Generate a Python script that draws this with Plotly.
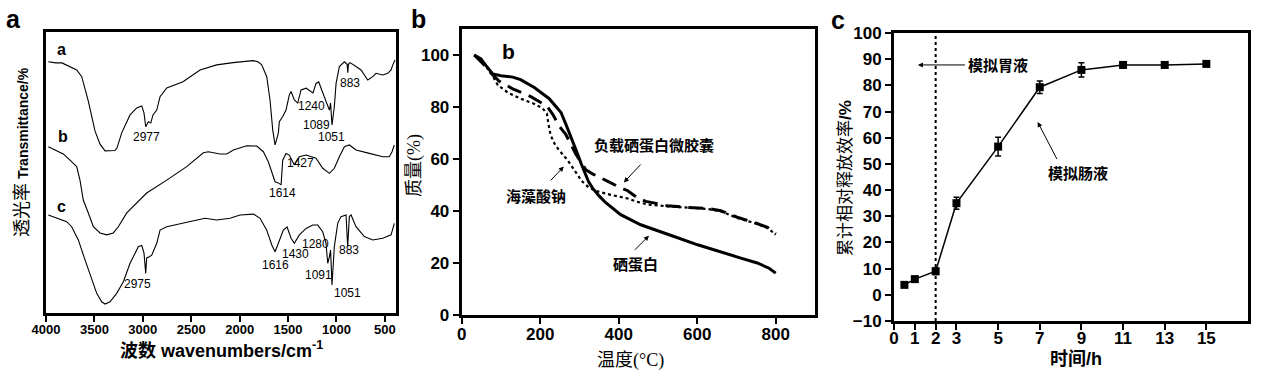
import plotly.graph_objects as go

# ---------------- Panel a : FTIR spectra (wavenumber cm-1, transmittance a.u.) ----------------
ftir_a = [(3976, 89.4), (3900, 89.0), (3835, 89.0), (3752, 87.7), (3683, 86.5), (3631, 84.1),
          (3563, 75.4), (3494, 64.8), (3442, 60.1), (3390, 57.7), (3339, 57.7), (3287, 57.8),
          (3267, 58.7), (3218, 64.1), (3132, 70.5), (3063, 73.0), (3011, 73.7), (2988, 71.2),
          (2970, 66.3), (2943, 68.1), (2918, 67.6), (2895, 70.5), (2856, 72.2), (2822, 77.0),
          (2753, 80.1), (2585, 82.3), (2409, 86.5), (2237, 88.3), (2068, 89.1), (1862, 89.8),
          (1810, 89.4), (1772, 88.3), (1720, 84.1), (1686, 75.7), (1658, 65.1), (1645, 61.4),
          (1634, 59.8), (1624, 61.0), (1600, 64.1), (1590, 68.1), (1555, 69.9), (1521, 72.2),
          (1487, 77.6), (1469, 78.8), (1435, 75.8), (1400, 74.7), (1366, 79.4), (1314, 80.0),
          (1263, 78.8), (1242, 78.3), (1211, 81.7), (1183, 82.3), (1159, 80.0), (1125, 77.0),
          (1090, 74.0), (1073, 72.2), (1061, 74.7), (1046, 66.9), (1022, 73.4), (1004, 81.7),
          (970, 87.7), (918, 89.4), (890, 88.5), (883, 85.5), (876, 88.5), (860, 89.1),
          (798, 87.7), (746, 86.5), (677, 82.9), (625, 84.1), (591, 85.3), (522, 84.7),
          (470, 85.3), (436, 86.5), (418, 88.3), (395, 90.0)]

ftir_b = [(3976, 59.2), (3873, 57.4), (3821, 56.6), (3752, 54.4), (3683, 52.1), (3649, 47.3),
          (3615, 40.2), (3563, 35.6), (3511, 30.7), (3442, 28.5), (3373, 27.8), (3305, 28.5),
          (3253, 30.7), (3166, 35.6), (3063, 39.1), (2960, 42.7), (2753, 47.3), (2547, 52.1),
          (2375, 57.0), (2323, 57.4), (2203, 56.6), (2133, 56.6), (2065, 58.0), (1927, 59.5),
          (1823, 59.4), (1755, 57.4), (1704, 53.8), (1668, 49.7), (1634, 46.7), (1600, 46.3),
          (1572, 45.6), (1555, 54.4), (1521, 56.8), (1487, 56.2), (1435, 52.7), (1383, 55.6),
          (1314, 56.2), (1211, 55.1), (1142, 51.5), (1073, 49.7), (1022, 51.5), (970, 55.6),
          (918, 59.2), (867, 59.8), (798, 58.0), (660, 56.8), (522, 55.6), (454, 55.6),
          (426, 57.4), (402, 59.8)]

ftir_c = [(3976, 34.9), (3873, 33.7), (3786, 32.5), (3735, 30.7), (3666, 26.0), (3597, 18.9),
          (3528, 11.7), (3476, 7.0), (3425, 4.0), (3390, 3.2), (3339, 4.0), (3270, 7.0),
          (3201, 11.1), (3132, 17.7), (3081, 21.2), (3047, 23.6), (3011, 24.0), (2988, 21.4),
          (2970, 14.1), (2960, 19.6), (2933, 20.0), (2908, 20.6), (2856, 24.8), (2822, 29.5),
          (2753, 30.7), (2582, 31.9), (2409, 33.3), (2358, 33.7), (2237, 33.1), (2099, 33.7),
          (1996, 34.9), (1858, 35.2), (1789, 33.7), (1720, 29.5), (1668, 24.2), (1634, 21.8),
          (1600, 24.8), (1549, 29.5), (1510, 30.6), (1469, 26.6), (1435, 24.8), (1383, 27.8),
          (1314, 30.1), (1245, 31.3), (1193, 31.3), (1142, 28.9), (1108, 24.8), (1090, 17.7),
          (1073, 20.0), (1061, 22.4), (1046, 10.0), (1022, 23.6), (987, 31.9), (953, 34.3),
          (901, 34.9), (884, 23.6), (867, 34.3), (849, 34.9), (798, 30.7), (712, 27.2),
          (625, 26.0), (522, 26.6), (436, 27.8), (402, 31.9)]

ftir_ticks = [4000, 3500, 3000, 2500, 2000, 1500, 1000, 500]
curve_labels = [("a", 3838, 93.6), ("b", 3828, 62.7), ("c", 3838, 37.8)]
peak_labels = [("2977", 2960, 62.5), ("1240", 1255, 73.7), ("1089", 1204, 66.9),
               ("1051", 1049, 62.5), ("883", 860, 81.7), ("1427", 1376, 53.3),
               ("1614", 1555, 42.8), ("1616", 1634, 17.1), ("1430", 1428, 21.0),
               ("1280", 1221, 24.6), ("1091", 1187, 13.5), ("1051", 888, 7.2),
               ("883", 867, 22.4), ("2975", 3057, 10.3)]

# ---------------- Panel b : TGA (temperature degC, mass %) ----------------
tga_protein = [(32, 100), (49, 98.5), (62, 95.9), (79, 92.7), (100, 92.0), (130, 91.5), (150, 90.5),
               (185, 87.5), (223, 83.2), (253, 77.9), (265, 73.5), (280, 68.0), (295, 62.0),
               (305, 58.0), (312, 55.3), (323, 51.3), (333, 48.9), (350, 45.8), (367, 43.2),
               (405, 38.6), (456, 34.7), (490, 33.0), (541, 30.2), (601, 27.0), (660, 24.4),
               (711, 21.9), (753, 20.0), (783, 18.0), (800, 16.1)]
tga_capsule = [(32, 100), (62, 95.5), (75, 93.0), (95, 90.0), (130, 87.0), (176, 84.0), (217, 80.4),
               (232, 77.2), (248, 72.7), (265, 69.5), (291, 61.8), (316, 55.9), (333, 54.3),
               (354, 52.6), (371, 51.5), (397, 49.5), (423, 47.8), (448, 45.0), (469, 43.7),
               (500, 42.8), (524, 42.0), (575, 41.4), (626, 41.0), (660, 40.1), (702, 37.6),
               (745, 35.6), (779, 33.7), (800, 31.2)]
tga_alginate = [(32, 100), (50, 98.3), (62, 95.5), (75, 93.0), (92, 88.4), (120, 85.3), (150, 83.2),
                (185, 81.2), (206, 79.5), (217, 77.5), (221, 73.5), (226, 69.5), (234, 66.5),
                (246, 63.8), (270, 59.5), (289, 55.0), (306, 51.5), (322, 49.3), (340, 47.8),
                (380, 46.2), (423, 44.8), (448, 43.5), (473, 42.5), (524, 41.8), (575, 41.2),
                (626, 40.8), (660, 39.9), (702, 37.3), (745, 35.4), (779, 33.5), (800, 30.9)]

# ---------------- Panel c : release (time h, cumulative release %) ----------------
time_h = [0.5, 1, 2, 3, 5, 7, 9, 11, 13, 15]
release = [3.8, 6.0, 9.0, 35.0, 56.6, 79.3, 85.9, 87.8, 87.8, 88.2]
release_err = [0.8, 0.8, 1.2, 2.3, 3.6, 2.4, 2.7, 1.2, 1.0, 1.0]
time_ticks = [0, 1, 2, 3, 5, 7, 9, 11, 13, 15]

W, H = 1267, 372
SANS = "Arial, Liberation Sans, Noto Sans CJK SC"
SERIF = "Liberation Serif, Noto Sans CJK SC"
CJK = "Noto Sans CJK SC"


def px(x, y):
    return x / W, 1 - y / H


fig = go.Figure()

# panel a traces
for curve in (ftir_a, ftir_b, ftir_c):
    fig.add_trace(go.Scatter(x=[p[0] for p in curve], y=[p[1] for p in curve], mode="lines",
                             line=dict(color="black", width=1.1), xaxis="x", yaxis="y",
                             showlegend=False, hoverinfo="skip"))

# panel b traces
fig.add_trace(go.Scatter(x=[p[0] for p in tga_alginate], y=[p[1] for p in tga_alginate], mode="lines",
                         line=dict(color="black", width=2.2, dash="dot"), xaxis="x2", yaxis="y2",
                         showlegend=False))
fig.add_trace(go.Scatter(x=[p[0] for p in tga_capsule], y=[p[1] for p in tga_capsule], mode="lines",
                         line=dict(color="black", width=3, dash="15px,8px"), xaxis="x2", yaxis="y2",
                         showlegend=False))
fig.add_trace(go.Scatter(x=[p[0] for p in tga_protein], y=[p[1] for p in tga_protein], mode="lines",
                         line=dict(color="black", width=3), xaxis="x2", yaxis="y2",
                         showlegend=False))

# panel c
fig.add_trace(go.Scatter(x=[2, 2], y=[-10, 100], mode="lines",
                         line=dict(color="black", width=2, dash="dot"), xaxis="x3", yaxis="y3",
                         showlegend=False))
fig.add_trace(go.Scatter(x=time_h, y=release, mode="lines+markers",
                         line=dict(color="black", width=1.5),
                         marker=dict(symbol="square", size=8, color="black"),
                         error_y=dict(type="data", array=release_err, color="black", thickness=1.5, width=3),
                         xaxis="x3", yaxis="y3", showlegend=False))

axis_common = dict(showline=True, linewidth=3, linecolor="black", mirror=True, showgrid=False,
                   zeroline=False, ticks="outside", ticklen=6, tickwidth=2, tickcolor="black",
                   automargin=False)

fig.update_layout(
    width=W, height=H, margin=dict(l=0, r=0, t=0, b=0, autoexpand=False),
    paper_bgcolor="white", plot_bgcolor="white",
    xaxis=dict(domain=[46 / W, 396 / W], range=[4000, 385], tickvals=ftir_ticks, anchor="y",
               ticklabelstandoff=-4,
               tickfont=dict(family=SANS, size=13, color="black", weight="bold"), **axis_common),
    yaxis=dict(domain=[1 - 313 / H, 1 - 32 / H], range=[0, 100], showticklabels=False, anchor="x",
               **{**axis_common, "ticks": ""}),
    xaxis2=dict(domain=[461.7 / W, 815 / W], range=[0, 900], tickvals=[0, 200, 400, 600, 800], anchor="y2",
                ticklabelstandoff=-4,
                tickfont=dict(family=SANS, size=17, color="black", weight="bold"), **axis_common),
    yaxis2=dict(domain=[1 - 315 / H, 1 - 29 / H], range=[0, 110], tickvals=[0, 20, 40, 60, 80, 100],
                anchor="x2", tickfont=dict(family=SANS, size=17, color="black", weight="bold"), **axis_common),
    xaxis3=dict(domain=[894 / W, 1248 / W], range=[0, 17], tickvals=time_ticks, anchor="y3",
                ticklabelstandoff=-6,
                tickfont=dict(family=SANS, size=17, color="black", weight="bold"), **axis_common),
    yaxis3=dict(domain=[1 - 321 / H, 1 - 33 / H], range=[-10, 100], dtick=10, anchor="x3",
                tickfont=dict(family=SANS, size=17, color="black", weight="bold"), **axis_common),
)

ann = []
# panel letters
for t, (x, y) in (("a", (13, 19)), ("b", (418, 19)), ("c", (838, 20))):
    xx, yy = px(x, y)
    ann.append(dict(text=f"<b>{t}</b>", x=xx, y=yy, xref="paper", yref="paper", showarrow=False,
                    xanchor="center", yanchor="middle",
                    font=dict(family=SANS, size=25, color="black")))

# axis titles
titles = [
    ("<span style='font-size:18px'>透光率</span> <b>Transmittance/%</b>", (22, 152), -90, SANS, 14),
    ("<b>波数 wavenumbers/cm<sup>-1</sup></b>", (222, 349), 0, SANS, 18),
    ("质量(%)", (414, 165), -90, SERIF, 18),
    ("温度(°C)", (630, 360), 0, SERIF, 18),
    ("累计相对释放效率<b>/%</b>", (845, 178), -90, SANS, 17),
    ("<b>时间/h</b>", (1076, 359), 0, SANS, 18),
]
for text, (x, y), ang, fam, sz in titles:
    xx, yy = px(x, y)
    ann.append(dict(text=text, x=xx, y=yy, xref="paper", yref="paper", showarrow=False, textangle=ang,
                    xanchor="center", yanchor="middle",
                    font=dict(family=fam, size=sz, color="black")))

# panel a in-plot labels
for t, x, y in curve_labels:
    ann.append(dict(text=f"<b>{t}</b>", x=x, y=y, xref="x", yref="y", showarrow=False,
                    xanchor="center", yanchor="middle",
                    font=dict(family=SANS, size=16, color="black")))
for t, x, y in peak_labels:
    ann.append(dict(text=t, x=x, y=y, xref="x", yref="y", showarrow=False,
                    xanchor="center", yanchor="middle",
                    font=dict(family=SANS, size=12, color="black")))

# panel b labels and arrows
ann.append(dict(text="<b>b</b>", x=118, y=101.5, xref="x2", yref="y2", showarrow=False,
                xanchor="center", yanchor="middle",
                font=dict(family=SANS, size=21, color="black")))
for t, (tx, ty), (hx, hy), (ax_, ay_) in (
        ("负载硒蛋白微胶囊", (489, 65.6), (413, 51), (461, 58.7)),
        ("海藻酸钠", (189, 45.9), (260, 57.1), (222, 51)),
        ("硒蛋白", (444, 19.7), (477, 30.5), (436, 24.3))):
    ann.append(dict(text=f"<b>{t}</b>", x=tx, y=ty, xref="x2", yref="y2", showarrow=False,
                    xanchor="center", yanchor="middle",
                    font=dict(family=CJK, size=15, color="black")))
    ann.append(dict(text=" ", x=hx, y=hy, ax=ax_, ay=ay_, xref="x2", yref="y2", axref="x2", ayref="y2",
                    showarrow=True, arrowhead=2, arrowsize=1, arrowwidth=1, arrowcolor="black",
                    font=dict(size=2)))

# panel c labels and arrows
for t, (tx, ty), (hx, hy), (ax_, ay_) in (
        ("模拟胃液", (5.0, 87.8), (1.15, 87.8), (3.5, 87.8)),
        ("模拟肠液", (8.85, 46.9), (6.9, 66.0), (7.9, 50.7))):
    ann.append(dict(text=f"<b>{t}</b>", x=tx, y=ty, xref="x3", yref="y3", showarrow=False,
                    xanchor="center", yanchor="middle",
                    font=dict(family=CJK, size=15, color="black")))
    ann.append(dict(text=" ", x=hx, y=hy, ax=ax_, ay=ay_, xref="x3", yref="y3", axref="x3", ayref="y3",
                    showarrow=True, arrowhead=2, arrowsize=1, arrowwidth=1, arrowcolor="black",
                    font=dict(size=2)))

fig.update_layout(annotations=ann)
fig.write_html("out.html", config={"displayModeBar": False},
               post_script="document.body.style.margin='0';document.body.style.padding='0';")
